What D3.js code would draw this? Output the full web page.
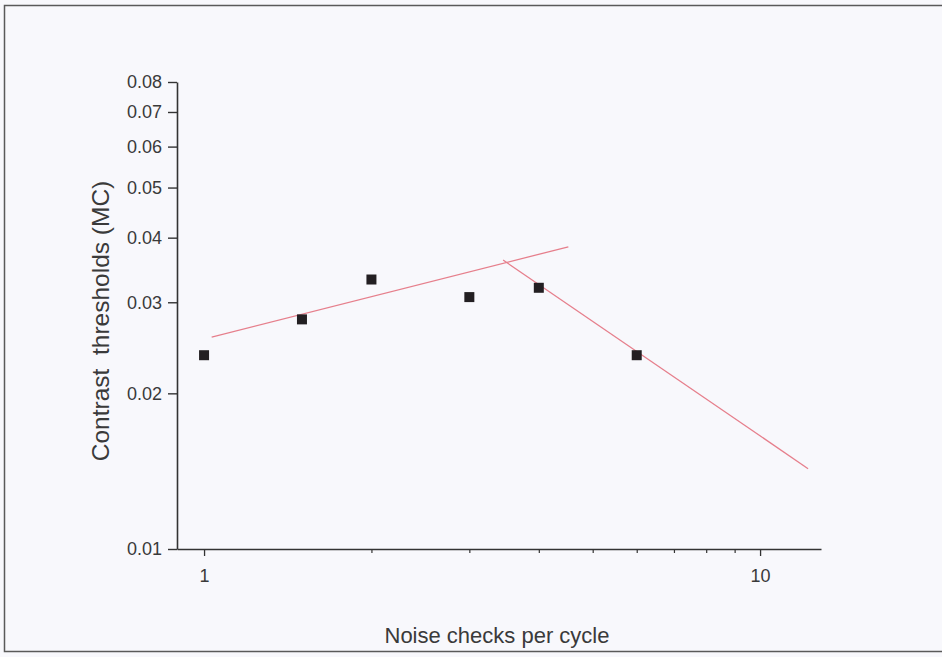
<!DOCTYPE html>
<html>
<head>
<meta charset="utf-8">
<script src="https://cdn.jsdelivr.net/npm/d3@7"></script>
<style>
  html, body { margin: 0; padding: 0; background: #f8f8fc; }
  svg { display: block; }
  text { font-family: "Liberation Sans", Arial, sans-serif; fill: #3a3a3a; }
</style>
</head>
<body>
<svg id="chart" width="942" height="657"></svg>
<script>
// Measured thresholds
const noiseChecks = [1, 1.5, 2, 3, 4, 6];
const thresholds = [0.0237, 0.0278, 0.0332, 0.0307, 0.0320, 0.0237];

// Fitted line segments (two-limb fit), given as endpoints
const fitRisingX = [1.032, 4.52];
const fitRisingY = [0.0257, 0.0384];
const fitFallingX = [3.45, 12.2];
const fitFallingY = [0.0362, 0.0143];

// Axis ticks
const yTicks = [0.01, 0.02, 0.03, 0.04, 0.05, 0.06, 0.07, 0.08];
const yTickLabels = ["0.01", "0.02", "0.03", "0.04", "0.05", "0.06", "0.07", "0.08"];
const xMajorTicks = [1, 10];
const xMinorTicks = [2, 3, 4, 5, 6, 7, 8, 9];

const xTitle = "Noise checks per cycle";
const yTitle = "Contrast\u00a0\u00a0thresholds (MC)";

const svg = d3.select("#chart");

// Outer frame
svg.append("rect")
  .attr("x", 4.5).attr("y", 5.5)
  .attr("width", 945).attr("height", 646)
  .attr("fill", "none").attr("stroke", "#5a5a5a").attr("stroke-width", 1.5);

const x = d3.scaleLog().domain([0.894, 12.87]).range([177, 821]);
const y = d3.scaleLog().domain([0.01, 0.08]).range([549, 82]);

const axisColor = "#333";
const font = "Liberation Sans, Arial, sans-serif";

// Y axis
const yAxis = d3.axisLeft(y)
  .tickValues(yTicks)
  .tickFormat((d, i) => yTickLabels[i])
  .tickSize(9).tickPadding(6).tickSizeOuter(0);
const gy = svg.append("g").attr("transform", "translate(177,0)").call(yAxis);
gy.select(".domain").attr("stroke", axisColor).attr("stroke-width", 1.6);
gy.selectAll(".tick line").attr("stroke", axisColor).attr("stroke-width", 1.4);
gy.selectAll(".tick text").attr("font-size", 18).attr("fill", "#3a3a3a")
  .attr("font-family", font);

// X axis (major ticks with labels)
const xAxis = d3.axisBottom(x)
  .tickValues(xMajorTicks)
  .tickFormat(d3.format("d"))
  .tickSize(7).tickPadding(13).tickSizeOuter(0);
const gx = svg.append("g").attr("transform", "translate(0,549)").call(xAxis);
gx.select(".domain").attr("stroke", axisColor).attr("stroke-width", 1.6);
gx.selectAll(".tick line").attr("stroke", axisColor).attr("stroke-width", 1.3);
gx.selectAll(".tick text").attr("font-size", 18).attr("fill", "#3a3a3a")
  .attr("font-family", font);

// X minor ticks
const xMinorAxis = d3.axisBottom(x)
  .tickValues(xMinorTicks)
  .tickFormat("")
  .tickSize(4).tickSizeOuter(0);
const gxm = svg.append("g").attr("transform", "translate(0,549)").call(xMinorAxis);
gxm.select(".domain").remove();
gxm.selectAll(".tick line").attr("stroke", axisColor).attr("stroke-width", 1.2);

// Axis titles
svg.append("text")
  .attr("x", 497).attr("y", 643)
  .attr("text-anchor", "middle")
  .attr("font-size", 22)
  .text(xTitle);

svg.append("text")
  .attr("transform", "translate(109,321) rotate(-90)")
  .attr("text-anchor", "middle")
  .attr("font-size", 24.5)
  .text(yTitle);

// Fit lines
const line = d3.line().x(d => x(d[0])).y(d => y(d[1]));
const fits = [
  d3.zip(fitRisingX, fitRisingY),
  d3.zip(fitFallingX, fitFallingY)
];
svg.append("g").selectAll("path")
  .data(fits)
  .join("path")
  .attr("d", line)
  .attr("fill", "none")
  .attr("stroke", "#e67f8c")
  .attr("stroke-width", 1.3);

// Data markers
const size = 10;
svg.append("g").selectAll("rect")
  .data(d3.zip(noiseChecks, thresholds))
  .join("rect")
  .attr("x", d => x(d[0]) - size / 2)
  .attr("y", d => y(d[1]) - size / 2)
  .attr("width", size).attr("height", size)
  .attr("fill", "#231f22");
</script>
</body>
</html>
